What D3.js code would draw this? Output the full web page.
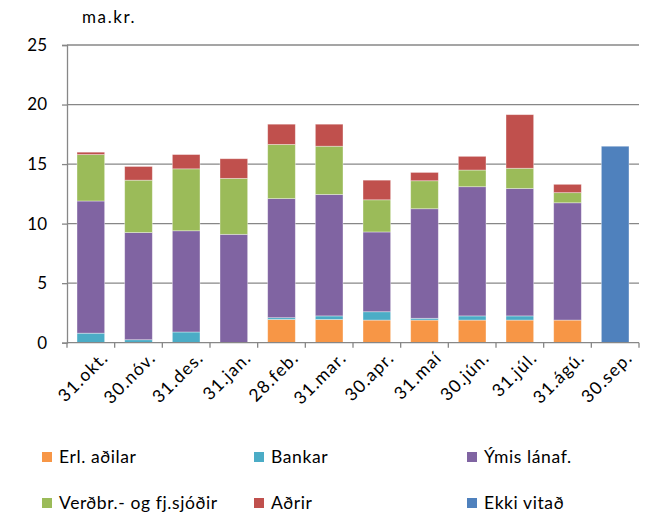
<!DOCTYPE html>
<html>
<head>
<meta charset="utf-8">
<script src="https://cdn.jsdelivr.net/npm/d3@7"></script>
<style>
  html, body { margin: 0; padding: 0; background: #fff; }
  svg { display: block; font-family: Lato, "Open Sans", sans-serif; }
</style>
</head>
<body>
<svg id="chart" width="649" height="517"></svg>
<script>
// Month-end dates
const categories = ["31.okt.", "30.nóv.", "31.des.", "31.jan.", "28.feb.", "31.mar.",
                    "30.apr.", "31.maí", "30.jún.", "31.júl.", "31.ágú.", "30.sep."];

// Holdings by holder group, ma.kr.
const erlAdilar   = [0,    0,    0,    0,    1.95, 1.95, 1.9,  1.9,  1.9,  1.9,  1.9,  0];
const bankar      = [0.8,  0.25, 0.9,  0,    0.15, 0.3,  0.7,  0.15, 0.35, 0.35, 0,    0];
const ymisLanaf   = [11.1, 9.0,  8.5,  9.1,  10.0, 10.2, 6.7,  9.2,  10.85,10.7, 9.85, 0];
const verdbrSjodir= [3.9,  4.4,  5.2,  4.7,  4.55, 4.05, 2.7,  2.35, 1.4,  1.7,  0.85, 0];
const adrir       = [0.2,  1.15, 1.2,  1.65, 1.7,  1.85, 1.65, 0.7,  1.15, 4.5,  0.7,  0];
const ekkiVitad   = [0,    0,    0,    0,    0,    0,    0,    0,    0,    0,    0,    16.5];

const seriesNames = ["Erl. aðilar", "Bankar", "Ýmis lánaf.", "Verðbr.- og fj.sjóðir", "Aðrir", "Ekki vitað"];
const seriesValues = [erlAdilar, bankar, ymisLanaf, verdbrSjodir, adrir, ekkiVitad];
const seriesColors = ["#F79646", "#4BACC6", "#8064A2", "#9BBB59", "#C0504D", "#4F81BD"];

const yTicks = [0, 5, 10, 15, 20, 25];
const unitLabel = "ma.kr.";

const svg = d3.select("#chart");
const plotLeft = 67, plotRight = 639, plotTop = 45, plotBottom = 342.7;

const x = d3.scaleBand().domain(categories).range([plotLeft, plotRight])
  .paddingInner(0.42).paddingOuter(0.21);
const y = d3.scaleLinear().domain([0, 25]).range([plotBottom, plotTop]);

// Horizontal gridlines
svg.append("g").selectAll("line").data(yTicks.filter(d => d > 0)).join("line")
  .attr("x1", plotLeft).attr("x2", plotRight)
  .attr("y1", d => y(d)).attr("y2", d => y(d))
  .attr("stroke", "#878787").attr("stroke-width", 1.3);

// Stacked bars
const rows = categories.map((c, i) => {
  const r = { cat: c };
  seriesNames.forEach((s, k) => r[s] = seriesValues[k][i]);
  return r;
});
const stacked = d3.stack().keys(seriesNames)(rows);

svg.append("g").selectAll("g").data(stacked).join("g")
  .attr("fill", (d, i) => seriesColors[i])
  .selectAll("rect").data(d => d.filter(p => p[1] - p[0] > 0)).join("rect")
  .attr("x", d => x(d.data.cat))
  .attr("width", x.bandwidth())
  .attr("y", d => y(d[1]))
  .attr("height", d => y(d[0]) - y(d[1]))
  .attr("stroke", "#ffffff").attr("stroke-opacity", 0.45).attr("stroke-width", 0.8);

// Y axis
const yAxis = svg.append("g").attr("transform", `translate(${plotLeft},0)`)
  .call(d3.axisLeft(y).tickValues(yTicks).tickSize(5).tickPadding(15));
yAxis.select(".domain").attr("stroke", "#878787").attr("stroke-width", 1.3);
yAxis.selectAll(".tick line").attr("stroke", "#878787").attr("stroke-width", 1.3);
yAxis.selectAll(".tick text").attr("font-size", 17).attr("fill", "#000")
  .attr("font-family", "Lato, sans-serif");

// X axis: ticks at category boundaries
const step = x.step();
const boundaries = d3.range(categories.length + 1).map(i => plotLeft + i * step);
svg.append("line").attr("x1", plotLeft).attr("x2", plotRight)
  .attr("y1", plotBottom).attr("y2", plotBottom)
  .attr("stroke", "#878787").attr("stroke-width", 1.3);
svg.append("g").selectAll("line").data(boundaries).join("line")
  .attr("x1", d => d).attr("x2", d => d)
  .attr("y1", plotBottom).attr("y2", plotBottom + 5)
  .attr("stroke", "#878787").attr("stroke-width", 1.3);

svg.append("g").selectAll("text").data(categories).join("text")
  .attr("transform", d => `translate(${x(d) + x.bandwidth() / 2 + 14},${plotBottom + 12}) rotate(-45)`)
  .attr("text-anchor", "end")
  .attr("dy", "0.35em")
  .attr("font-size", 17.5)
  .attr("letter-spacing", 1.2)
  .text(d => d);

// Unit label
svg.append("text").attr("x", 82).attr("y", 23)
  .attr("font-size", 17).attr("letter-spacing", 1.6).text(unitLabel);

// Legend
const legendX = [42, 254, 467];
const legendY = [457, 503];
const legend = svg.append("g").selectAll("g").data(seriesNames).join("g")
  .attr("transform", (d, i) => `translate(${legendX[i % 3]},${legendY[Math.floor(i / 3)]})`);
legend.append("rect").attr("x", 0).attr("y", -5).attr("width", 10).attr("height", 10)
  .attr("fill", (d, i) => seriesColors[i]);
legend.append("text").attr("x", 17).attr("dy", "0.35em")
  .attr("font-size", 17.5).attr("letter-spacing", 0.6).text(d => d);
</script>
</body>
</html>
